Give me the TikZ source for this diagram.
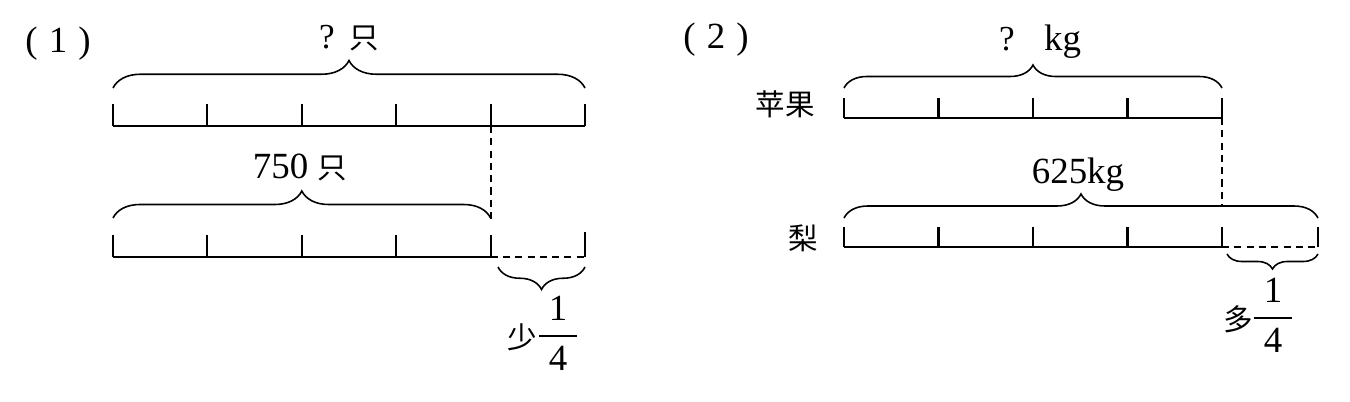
\documentclass[tikz,border=0pt]{standalone}
\usepackage{amsmath}
\usepackage{fontspec}
\setmainfont{Liberation Serif}
\newfontfamily\cjk[Scale=0.8]{Noto Sans CJK SC}
\usetikzlibrary{positioning, decorations.pathreplacing}

\tikzset{
    bar/.style={line width=1.2pt},
    gap/.style={line width=1.1pt, dash pattern=on 4pt off 3pt},
    brc/.style={decorate, line width=0.9pt, decoration={brace, amplitude=#1}},
    txt/.style={inner sep=0pt, font=\fontsize{21}{24}\selectfont},
}
\newcommand{\quarter}{$\genfrac{}{}{1pt}{0}{\hbox to 0.75cm{\hfil 1\hfil}}{\hbox{4}}$}
\newcommand{\qmark}{{\fontsize{20}{22}\selectfont ?}}

\begin{document}
\begin{tikzpicture}[x=0.02cm, y=-0.02cm]
    \useasboundingbox (0,0) rectangle (1350,402);

    \node[txt] (num1) at (58,44) {(\hspace{0.3em}1\hspace{0.3em})};
    \coordinate (a0) at (113,126);
    \coordinate (a4) at (490.6,126);
    \coordinate (a5) at (585,126);
    \coordinate (b0) at (113,257);
    \coordinate (b4) at (490.6,257);
    \coordinate (b5) at (585,257);
    \coordinate (bt) at (490.6,220);
    \draw[bar] (a0) -- (a5);
    \foreach \i in {0,...,5}
        \draw[bar] (113+94.4*\i,126) -- ++(0,-22);
    \draw[brc=0.55cm] (113,88) -- (585,88);
    \node[txt] (whole1) at (349,38) {\qmark\hspace{0.4em}{\cjk 只}};
    \draw[gap] (a4) -- (bt);
    \draw[brc=0.54cm] (113,218) -- (490.6,218);
    \node[txt] (part1) at (300,167) {750\hspace{0.25em}{\cjk 只}};
    \draw[bar] (b0) -- (b4);
    \foreach \i in {0,...,4}
        \draw[bar] (113+94.4*\i,257) -- ++(0,-22);
    \draw[gap] (b4) -- (b5);
    \draw[bar] (b5) -- ++(0,-25);
    \draw[brc=0.45cm] (585,267) -- (498,267);
    \node[txt] (less) at (522,337) {\cjk 少};
    \node[txt] (frac1) at (558,333) {\quarter};

    \node[txt] (num2) at (716,40) {(\hspace{0.3em}2\hspace{0.3em})};
    \node[txt] (apple) at (785,104) {\cjk 苹果};
    \node[txt] (pear) at (803,238) {\cjk 梨};
    \coordinate (c0) at (844,118);
    \coordinate (c4) at (1222,118);
    \coordinate (d0) at (844,247);
    \coordinate (d4) at (1222,247);
    \coordinate (d5) at (1318,247);
    \coordinate (dt) at (1222,205);
    \draw[bar] (c0) -- (c4);
    \foreach \i in {0,...,4}
        \draw[bar] (844+94.5*\i,118) -- ++(0,-20);
    \draw[brc=0.46cm] (844,88) -- (1222,88);
    \node[txt] (whole2) at (1040,42) {\qmark\hspace{0.8em}kg};
    \draw[gap] (c4) -- (dt);
    \draw[brc=0.48cm] (844,218) -- (1318,218);
    \node[txt] (part2) at (1078,175) {625kg};
    \draw[bar] (d0) -- (d4);
    \foreach \i in {0,...,4}
        \draw[bar] (844+94.5*\i,247) -- ++(0,-20);
    \draw[gap] (d4) -- (d5);
    \draw[bar] (d5) -- ++(0,-20);
    \draw[brc=0.3cm] (1318,254) -- (1227,254);
    \node[txt] (more) at (1238,319) {\cjk 多};
    \node[txt] (frac2) at (1273,315) {\quarter};
\end{tikzpicture}
\end{document}
